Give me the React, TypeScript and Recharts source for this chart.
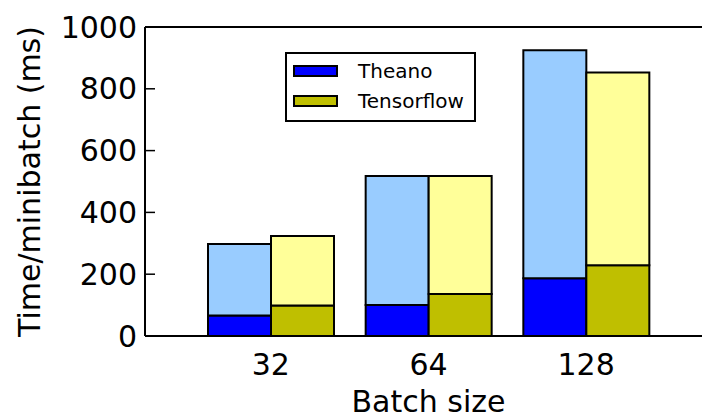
import React from 'react';
import { BarChart, Bar, XAxis, YAxis, Label } from 'recharts';

const categories = ['32', '64', '128'];
const theanoBase = [66, 100, 187];
const theanoTotal = [298, 518, 925];
const tfBase = [99, 136, 229];
const tfTotal = [324, 518, 853];
const yTicks = [0, 200, 400, 600, 800, 1000];

const FONT = '"DejaVu Sans", sans-serif';

const data = categories.map((cat, i) => ({
  name: cat,
  theanoBase: theanoBase[i],
  theanoTop: theanoTotal[i] - theanoBase[i],
  tfBase: tfBase[i],
  tfTop: tfTotal[i] - tfBase[i],
}));

const legendItems = [
  { name: 'Theano', color: '#0000ff' },
  { name: 'Tensorflow', color: '#bfbf00' },
];

function LegendBox() {
  return (
    <div
      style={{
        position: 'absolute',
        left: 285,
        top: 52,
        width: 191,
        height: 70,
        boxSizing: 'border-box',
        border: '2px solid #000',
        background: '#fff',
        fontFamily: FONT,
      }}
    >
      {legendItems.map((item, i) => (
        <div
          key={item.name}
          style={{
            position: 'absolute',
            left: 6,
            top: 11 + i * 30,
            height: 12,
            display: 'flex',
            alignItems: 'center',
          }}
        >
          <div
            style={{
              width: 45,
              height: 12,
              boxSizing: 'border-box',
              border: '2px solid #000',
              background: item.color,
            }}
          />
          <span style={{ marginLeft: 20, fontSize: 20, color: '#000', whiteSpace: 'nowrap' }}>{item.name}</span>
        </div>
      ))}
    </div>
  );
}

export default function App() {
  const tickStyle = { fontSize: 30, fill: '#000', fontFamily: FONT };
  return (
    <div style={{ position: 'fixed', left: 0, top: 0, width: 702, height: 418, overflow: 'hidden', background: '#fff' }}>
      <BarChart
        width={712}
        height={418}
        data={data}
        margin={{ top: 26, right: 0, bottom: 0, left: 0 }}
        barGap={0}
        barSize={63}
      >
        <XAxis
          dataKey="name"
          height={82}
          padding={{ left: 47, right: 47 }}
          tick={tickStyle}
          tickLine={false}
          tickSize={0}
          tickMargin={18}
          axisLine={{ stroke: '#000', strokeWidth: 2 }}
        >
          <Label
            content={({ viewBox }: any) => (
              <text
                x={viewBox.x + viewBox.width / 2}
                y={412}
                textAnchor="middle"
                fontSize={30}
                fontFamily={FONT}
                fill="#000"
              >
                Batch size
              </text>
            )}
          />
        </XAxis>
        <XAxis
          xAxisId="top"
          orientation="top"
          dataKey="name"
          height={1}
          tick={false}
          tickLine={false}
          axisLine={{ stroke: '#000', strokeWidth: 2 }}
        />
        <YAxis
          width={145}
          domain={[0, 1000]}
          ticks={yTicks}
          tick={tickStyle}
          tickSize={-10}
          tickMargin={18}
          tickLine={{ stroke: '#000', strokeWidth: 1.5 }}
          axisLine={{ stroke: '#000', strokeWidth: 2 }}
        >
          <Label
            content={({ viewBox }: any) => (
              <text
                transform={`translate(39.5, ${viewBox.y + viewBox.height / 2}) rotate(-90)`}
                textAnchor="middle"
                fontSize={30}
                fontFamily={FONT}
                fill="#000"
              >
                Time/minibatch (ms)
              </text>
            )}
          />
        </YAxis>
        <Bar dataKey="theanoBase" stackId="theano" fill="#0000ff" stroke="#000" strokeWidth={2} isAnimationActive={false} />
        <Bar dataKey="theanoTop" stackId="theano" fill="#99ccff" stroke="#000" strokeWidth={2} isAnimationActive={false} />
        <Bar dataKey="tfBase" stackId="tf" fill="#bfbf00" stroke="#000" strokeWidth={2} isAnimationActive={false} />
        <Bar dataKey="tfTop" stackId="tf" fill="#ffff99" stroke="#000" strokeWidth={2} isAnimationActive={false} />
      </BarChart>
      <LegendBox />
    </div>
  );
}
